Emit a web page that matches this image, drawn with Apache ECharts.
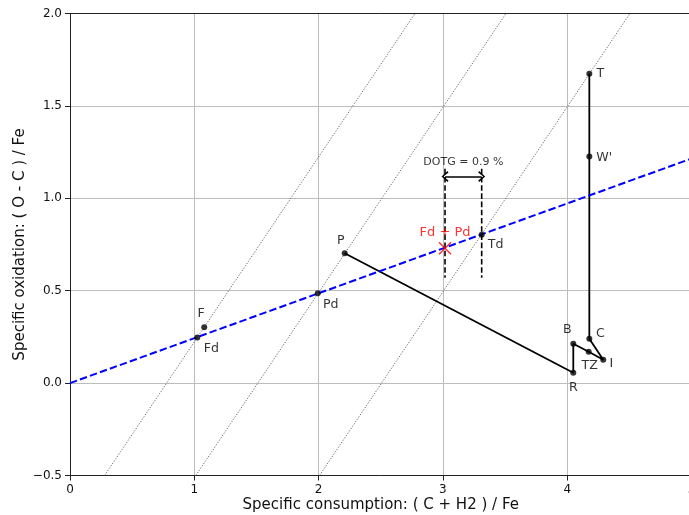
<!DOCTYPE html>
<html><head><meta charset="utf-8">
<script src="https://cdn.jsdelivr.net/npm/echarts@6/dist/echarts.min.js"></script>
<style>html,body{margin:0;padding:0;background:#fff}#c{width:689px;height:515px}</style>
</head><body><div id="c"></div>
<script>
// ---- data ----
const xTicks = [0, 1, 2, 3, 4, 5];
const yTicks = [-0.5, 0, 0.5, 1.0, 1.5, 2.0];
const pointNames = ['F', 'Fd', 'Pd', 'P', 'Td', 'T', "W'", 'C', 'B', 'TZ', 'I', 'R'];
const pointX = [1.080, 1.024, 1.993, 2.210, 3.312, 4.178, 4.178, 4.178, 4.049, 4.173, 4.290, 4.049];
const pointY = [0.302, 0.247, 0.486, 0.703, 0.803, 1.674, 1.226, 0.240, 0.213, 0.170, 0.126, 0.056];
const pathOrder = ['P', 'R', 'B', 'TZ', 'I', 'C', "W'", 'T'];
const blueLineX = [0, 5];
const blueLineY = [0, 1.215];
const isoStartX = [0.278, 1.012, 2.007];
const isoEndX = [2.775, 3.507, 4.505];
const isoStartY = -0.5;
const isoEndY = 2.0;
const fdpdX = 3.017, fdpdY = 0.730, fdpdLabel = 'Fd + Pd';
const dotgX = [3.017, 3.312];
const dotgTopY = 1.16, dotgBottomY = 0.57;
const dotgArrowY = 1.118;
const dotgTextY = 1.195;
const dotgText = 'DOTG = 0.9 %';
const xTitle = 'Specific consumption: ( C + H2 ) / Fe';
const yTitle = 'Specific oxidation: ( O - C ) / Fe';

// ---- styles ----
const FONT = 'DejaVu Sans';
const labelOffsets = {
  'F': [-3, -14], 'Fd': [14, 11], 'Pd': [13, 11], 'P': [-4, -12], 'Td': [14, 10],
  'T': [11, 0], "W'": [15, 1], 'C': [11, -5], 'B': [-6, -14], 'TZ': [1, 14],
  'I': [8, 4], 'R': [0, 15]
};

const pts = {};
pointNames.forEach((n, i) => pts[n] = [pointX[i], pointY[i]]);

const series = [];
isoStartX.forEach((sx, i) => {
  series.push({
    type: 'line', silent: true, symbol: 'none', z: 1,
    data: [[sx, isoStartY], [isoEndX[i], isoEndY]],
    lineStyle: { color: '#555', width: 0.9, type: [1.2, 1.6] }
  });
});
series.push({
  type: 'line', silent: true, symbol: 'none', z: 3,
  data: blueLineX.map((x, i) => [x, blueLineY[i]]),
  lineStyle: { color: '#0000ff', width: 2, type: [7.4, 3.2] }
});
series.push({
  type: 'line', silent: true, symbol: 'none', z: 2,
  data: pathOrder.map(n => pts[n]),
  lineStyle: { color: '#000', width: 1.8 }
});
dotgX.forEach(x => {
  series.push({
    type: 'line', silent: true, symbol: 'none', z: 2,
    data: [[x, dotgTopY], [x, dotgBottomY]],
    lineStyle: { color: '#000', width: 1.6, type: [5.6, 2.6] }
  });
});
// arrow
series.push({
  type: 'line', silent: true, symbol: 'none', data: [], z: 4,
  markLine: {
    silent: true,
    symbol: ['path://M5,0L10,8L8.6,9.2L5,2.6L1.4,9.2L0,8Z', 'path://M5,0L10,8L8.6,9.2L5,2.6L1.4,9.2L0,8Z'],
    symbolSize: [11, 7],
    label: { show: false },
    lineStyle: { color: '#000', width: 1.6, type: 'solid' },
    itemStyle: { color: '#000' },
    data: [[{ coord: [dotgX[0], dotgArrowY] }, { coord: [dotgX[1], dotgArrowY] }]]
  }
});
// DOTG text
series.push({
  type: 'scatter', silent: true, symbolSize: 0, z: 5,
  data: [[(dotgX[0] + dotgX[1]) / 2, dotgTextY]],
  label: { show: true, position: 'inside', formatter: dotgText, fontSize: 11, color: '#000', fontFamily: FONT }
});
// points
series.push({
  type: 'scatter', silent: true, symbol: 'circle', symbolSize: 6, z: 6,
  itemStyle: { color: '#000' },
  data: pointNames.map((n, i) => ({
    name: n, value: [pointX[i], pointY[i]],
    label: { offset: labelOffsets[n] }
  })),
  label: { show: true, position: 'inside', formatter: p => p.name, fontSize: 12.6, color: '#000', fontFamily: FONT }
});
// Fd + Pd marker
series.push({
  type: 'scatter', silent: true, z: 7,
  symbol: 'path://M0,0L10,10M10,0L0,10', symbolSize: 12,
  itemStyle: { color: 'none', borderColor: '#ff0000', borderWidth: 1.5 },
  data: [[fdpdX, fdpdY]],
  label: { show: true, position: 'inside', offset: [0, -16], formatter: fdpdLabel, fontSize: 13, color: '#ff0000', fontFamily: FONT }
});

const yFmt = v => (v < 0 ? '\u2212' : '') + Math.abs(v).toFixed(1);

const chart = echarts.init(document.getElementById('c'), null, { renderer: 'canvas' });
chart.setOption({
  animation: false,
  backgroundColor: '#fff',
  grid: { left: 70, top: 13.5, width: 621.5, height: 462, containLabel: false, outerBoundsMode: 'none' },
  xAxis: [{
    type: 'value', min: xTicks[0], max: xTicks[xTicks.length - 1], interval: 1, position: 'bottom',
    axisLine: { show: true, onZero: false, lineStyle: { color: '#222', width: 1 } },
    axisTick: { show: true, inside: false, length: 5, lineStyle: { color: '#222' } },
    axisLabel: { fontSize: 12, color: '#111', margin: 8, fontFamily: FONT, formatter: v => String(v) },
    splitLine: { show: true, lineStyle: { color: '#bcbcbc', width: 1 } },
    name: xTitle, nameLocation: 'middle', nameGap: 22, nameMoveOverlap: false,
    nameTextStyle: { fontSize: 15, color: '#111', fontFamily: FONT }
  }, {
    type: 'value', min: 0, max: 5, position: 'top',
    axisLine: { show: true, onZero: false, lineStyle: { color: '#222', width: 1 } },
    axisTick: { show: false }, axisLabel: { show: false }, splitLine: { show: false }
  }],
  yAxis: [{
    type: 'value', min: yTicks[0], max: yTicks[yTicks.length - 1], interval: 0.5,
    axisLine: { show: true, onZero: false, lineStyle: { color: '#222', width: 1 } },
    axisTick: { show: true, inside: false, length: 5, lineStyle: { color: '#222' } },
    axisLabel: { fontSize: 12, color: '#111', margin: 8, fontFamily: FONT, formatter: yFmt },
    splitLine: { show: true, lineStyle: { color: '#bcbcbc', width: 1 } },
    name: yTitle, nameLocation: 'middle', nameGap: 42, nameMoveOverlap: false,
    nameTextStyle: { fontSize: 15, color: '#111', fontFamily: FONT }
  }],
  series: series
});
</script>
</body></html>
